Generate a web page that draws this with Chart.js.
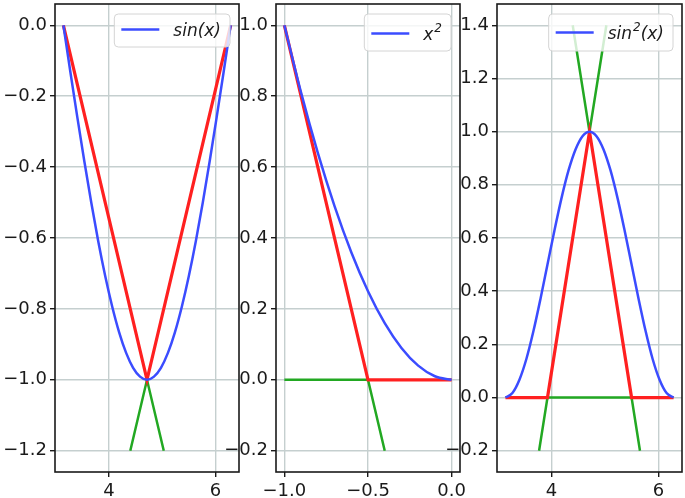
<!DOCTYPE html>
<html>
<head>
<meta charset="utf-8">
<script src="https://cdn.jsdelivr.net/npm/chart.js@4.4.0/dist/chart.umd.min.js"></script>
<style>
body { margin: 0; background: #fff; }
#wrap { position: relative; width: 685px; height: 498px; overflow: hidden; }
canvas { position: absolute; top: 0; }
</style>
</head>
<body>
<div id="wrap">
  <canvas id="c1" width="242" height="498" style="left:0px;width:242px;height:498px"></canvas>
  <canvas id="c2" width="250" height="498" style="left:220px;width:250px;height:498px"></canvas>
  <canvas id="c3" width="245" height="498" style="left:440px;width:245px;height:498px"></canvas>
</div>
<script>
// DATA
const angleX = [3.142, 3.272, 3.403, 3.534, 3.665, 3.796, 3.927, 4.058, 4.189, 4.320, 4.451, 4.581, 4.712,
                4.843, 4.974, 5.105, 5.236, 5.367, 5.498, 5.629, 5.760, 5.890, 6.021, 6.152, 6.283];
const sinY = [0, -0.131, -0.259, -0.383, -0.5, -0.609, -0.707, -0.793, -0.866, -0.924, -0.966, -0.991, -1,
              -0.991, -0.966, -0.924, -0.866, -0.793, -0.707, -0.609, -0.5, -0.383, -0.259, -0.131, 0];
const sin2Y = [0, 0.017, 0.067, 0.146, 0.25, 0.371, 0.5, 0.629, 0.75, 0.854, 0.933, 0.983, 1,
               0.983, 0.933, 0.854, 0.75, 0.629, 0.5, 0.371, 0.25, 0.146, 0.067, 0.017, 0];
const sqX = [-1, -0.9, -0.8, -0.7, -0.6, -0.5, -0.4, -0.3, -0.2, -0.1, 0];
const sqY = [1, 0.81, 0.64, 0.49, 0.36, 0.25, 0.16, 0.09, 0.04, 0.01, 0];

const red1X = [3.142, 4.712, 6.283];
const red1Y = [0, -1, 0];
const green1X = [4.398, 4.712, 5.027];
const green1Y = [-1.2, -1, -1.2];

const red2X = [-1, -0.5, 0];
const red2Y = [1, 0, 0];
const green2X = [-1, -0.5, -0.4];
const green2Y = [0, 0, -0.2];

const red3X = [3.142, 3.927, 4.712, 5.498, 6.283];
const red3Y = [0, 0, 1, 0, 0];
const green3aX = [4.398, 4.712, 5.027];
const green3aY = [1.4, 1, 1.4];
const green3bX = [3.770, 3.927, 5.498, 5.655];
const green3bY = [-0.2, 0, 0, -0.2];

const seriesLabels = ['sin(x)', 'x²', 'sin²(x)'];
const xTicks1 = [4, 6];
const xTicks2 = [-1.0, -0.5, 0.0];
const yTicks1 = [-1.2, -1.0, -0.8, -0.6, -0.4, -0.2, 0.0];
const yTicks2 = [-0.2, 0.0, 0.2, 0.4, 0.6, 0.8, 1.0];
const yTicks3 = [-0.2, 0.0, 0.2, 0.4, 0.6, 0.8, 1.0, 1.2, 1.4];

const BLUE = '#3b4cff', RED = '#ff2020', GREEN = '#22a822';

Chart.defaults.font.family = '"DejaVu Sans"';
Chart.defaults.font.size = 18;
Chart.defaults.color = '#1a1a1a';

function pts(xs, ys) {
  return xs.map((x, i) => ({x: x, y: ys[i]}));
}

function fmt(v, dec) {
  const r = Math.round(v * 10) / 10;
  const s = Math.abs(r).toFixed(dec);
  return r < 0 ? '\u2212' + s : s;
}

// box round the plot area
const frame = {
  id: 'frame',
  afterDatasetsDraw(chart) {
    const {ctx, chartArea: a} = chart;
    ctx.save();
    ctx.strokeStyle = '#1a1a1a';
    ctx.lineWidth = 1.6;
    ctx.strokeRect(a.left, a.top, a.right - a.left, a.bottom - a.top);
    ctx.restore();
  }
};

// matplotlib-like legend box, upper right; '²' drawn as a raised small 2
const legendBox = {
  id: 'legendBox',
  afterDraw(chart, args, opts) {
    const {ctx, chartArea: a} = chart;
    const ds = chart.data.datasets[0];
    const big = 'italic 17px "DejaVu Sans"', small = 'italic 12px "DejaVu Sans"';
    const parts = ds.label.split('²');
    ctx.save();
    let tw = 0;
    parts.forEach((t, i) => {
      ctx.font = big; tw += ctx.measureText(t).width;
      if (i < parts.length - 1) { ctx.font = small; tw += ctx.measureText('2').width + 1; }
    });
    const w = 7 + 38 + 14 + tw + 9;
    const h = opts.height;
    const x = a.right - 9 - w, y = a.top + 10;
    ctx.beginPath();
    ctx.roundRect(x, y, w, h, 4);
    ctx.fillStyle = 'rgba(255,255,255,0.8)';
    ctx.fill();
    ctx.strokeStyle = '#d4d4d4';
    ctx.lineWidth = 1;
    ctx.stroke();
    const cy = y + h / 2 + opts.shift;
    ctx.beginPath();
    ctx.moveTo(x + 7, cy);
    ctx.lineTo(x + 45, cy);
    ctx.strokeStyle = ds.borderColor;
    ctx.lineWidth = 2.5;
    ctx.stroke();
    ctx.fillStyle = '#1a1a1a';
    ctx.textBaseline = 'alphabetic';
    let tx = x + 59;
    const base = cy + 6;
    parts.forEach((t, i) => {
      ctx.font = big; ctx.fillText(t, tx, base); tx += ctx.measureText(t).width;
      if (i < parts.length - 1) {
        ctx.font = small; ctx.fillText('2', tx + 1, base - 8); tx += ctx.measureText('2').width + 1;
      }
    });
    ctx.restore();
  }
};

function makePanel(id, p) {
  const datasets = [
    {label: p.label, data: pts(p.curveX, p.curveY), borderColor: BLUE, borderWidth: 2.5,
     cubicInterpolationMode: 'monotone'},
    {label: 'approx', data: pts(p.redX, p.redY), borderColor: RED, borderWidth: 3.2},
  ];
  p.greens.forEach(g => {
    datasets.push({label: 'ext', data: pts(g[0], g[1]), borderColor: GREEN, borderWidth: 2.5});
  });
  return new Chart(document.getElementById(id), {
    type: 'line',
    data: {datasets: datasets},
    plugins: [frame, legendBox],
    options: {
      responsive: false,
      animation: false,
      layout: {padding: {top: 4, right: p.padR, left: 0, bottom: 0}},
      elements: {point: {radius: 0}, line: {tension: 0, borderCapStyle: 'butt'}},
      plugins: {legend: {display: false}, tooltip: {enabled: false},
                legendBox: {height: p.legendH, shift: p.legendShift}},
      scales: {
        x: {
          type: 'linear', min: p.xMin, max: p.xMax,
          afterFit: s => { s.height = 26; s.paddingLeft = 0; s.paddingRight = 0; },
          afterBuildTicks: s => { s.ticks = p.xTicks.map(v => ({value: v})); },
          ticks: {padding: 4, maxRotation: 0, callback: p.xFmt},
          grid: {color: '#c5cfcf', lineWidth: 1.4, tickLength: 5, tickColor: '#1a1a1a', tickWidth: 1.4},
          border: {display: false}
        },
        y: {
          type: 'linear', min: p.yMin, max: p.yMax,
          afterFit: s => { s.width = p.yW; s.paddingTop = 0; s.paddingBottom = 0; },
          afterBuildTicks: s => { s.ticks = p.yTicks.map(v => ({value: v})); },
          ticks: {padding: 3, callback: v => fmt(v, 1)},
          grid: {color: '#c5cfcf', lineWidth: 1.4, tickLength: 5, tickColor: '#1a1a1a', tickWidth: 1.4},
          border: {display: false}
        }
      }
    }
  });
}

makePanel('c1', {
  label: seriesLabels[0], curveX: angleX, curveY: sinY, redX: red1X, redY: red1Y,
  greens: [[green1X, green1Y]],
  xMin: 2.984, xMax: 6.440, xTicks: xTicks1, xFmt: v => String(v),
  yMin: -1.26, yMax: 0.06, yTicks: yTicks1, yW: 55, padR: 3, legendH: 33, legendShift: -1
});
makePanel('c2', {
  label: seriesLabels[1], curveX: sqX, curveY: sqY, redX: red2X, redY: red2Y,
  greens: [[green2X, green2Y]],
  xMin: -1.05, xMax: 0.05, xTicks: xTicks2, xFmt: v => fmt(v, 1),
  yMin: -0.26, yMax: 1.06, yTicks: yTicks2, yW: 56, padR: 10, legendH: 37, legendShift: 1
});
makePanel('c3', {
  label: seriesLabels[2], curveX: angleX, curveY: sin2Y, redX: red3X, redY: red3Y,
  greens: [[green3aX, green3aY], [green3bX, green3bY]],
  xMin: 2.984, xMax: 6.440, xTicks: xTicks1, xFmt: v => String(v),
  yMin: -0.28, yMax: 1.48, yTicks: yTicks3, yW: 57, padR: 3, legendH: 37, legendShift: 0
});
</script>
</body>
</html>
